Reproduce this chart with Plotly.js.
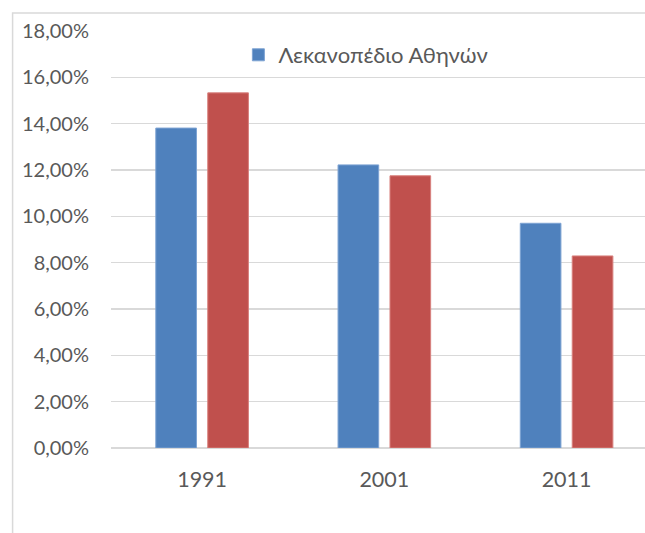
<!DOCTYPE html>
<html>
<head>
<meta charset="utf-8">
<script src="https://cdn.plot.ly/plotly-3.0.1.min.js"></script>
<style>html,body{margin:0;padding:0;background:#fff;}#chart{width:645px;height:533px;}</style>
</head>
<body>
<div id="chart"></div>
<script>
const categories = ['1991', '2001', '2011'];
const athensBasin = [0.1381, 0.1222, 0.0970];
const secondSeries = [0.1533, 0.1175, 0.0829];
const athensName = 'Λεκανοπέδιο Αθηνών';
const secondName = 'Ελλάδα';

const fontFam = 'Lato, "Noto Sans", sans-serif';
const textColor = '#595959';
const gridColor = '#D9D9D9';

const L = 110.5, W = 645, catPx = 182.4;
const barW = 40.7 / catPx, innerGap = 11.3 / catPx;

const traces = [
  {type: 'bar', x: categories, y: athensBasin, name: athensName,
   width: barW, offset: -(barW + innerGap / 2),
   marker: {color: '#4F81BD', line: {color: '#7EA3D3', width: 1}}, hoverinfo: 'y'},
  {type: 'bar', x: categories, y: secondSeries, name: secondName, showlegend: false,
   width: barW, offset: innerGap / 2,
   marker: {color: '#C0504D', line: {color: '#D8807D', width: 1}}, hoverinfo: 'y'}
];

const layout = {
  width: 645, height: 533,
  margin: {l: L, r: 0, t: 31, b: 85, pad: 0},
  paper_bgcolor: '#fff', plot_bgcolor: '#fff',
  separators: ',.',
  barmode: 'overlay',
  font: {family: fontFam, size: 20, color: textColor},
  showlegend: true,
  legend: {orientation: 'h', x: (238 - L) / (W - L), xanchor: 'left', y: (448 - 55) / 417, yanchor: 'middle',
           font: {family: fontFam, size: 22, color: textColor}, bgcolor: 'rgba(0,0,0,0)'},
  xaxis: {type: 'category', range: [-0.5, (W - L) / catPx - 0.5], showgrid: false, zeroline: false,
          showline: false, ticks: '', ticklabelstandoff: 16,
          tickfont: {family: fontFam, size: 21.5, color: textColor}},
  yaxis: {range: [0, 0.18], dtick: 0.02, tickformat: '.2%', showgrid: true, gridcolor: gridColor, gridwidth: 1.5,
          zeroline: true, zerolinecolor: gridColor, zerolinewidth: 1.5, showline: false, ticks: '',
          ticklabelstandoff: 21, tickfont: {family: fontFam, size: 20, color: textColor}},
  shapes: [{type: 'rect', xref: 'paper', yref: 'paper',
            x0: (12 - L) / (W - L), x1: 1.1, y0: -0.3, y1: (448 - 13) / 417,
            line: {color: gridColor, width: 1.5}, fillcolor: 'rgba(0,0,0,0)', layer: 'below'}]
};

Plotly.newPlot('chart', traces, layout, {displayModeBar: false, staticPlot: true});
</script>
</body>
</html>
